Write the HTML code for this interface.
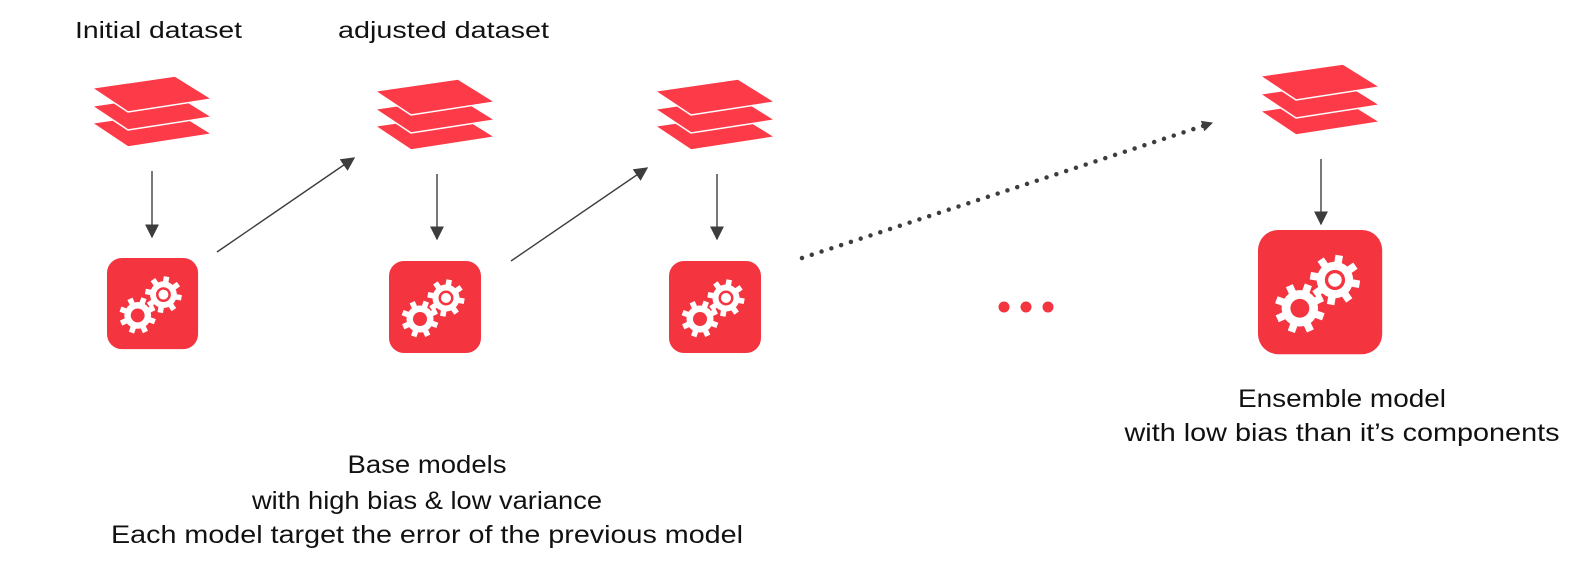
<!DOCTYPE html>
<html><head><meta charset="utf-8"><style>
html,body{margin:0;padding:0;background:#fff;}
svg{display:block;}
text{font-family:"Liberation Sans",sans-serif;fill:#111;}
</style></head><body>
<svg width="1595" height="569" viewBox="0 0 1595 569" xmlns="http://www.w3.org/2000/svg">
<defs>
  <g id="stack">
    <polygon points="0,47 83,35 120,58 36,71" fill="#fd3a48" stroke="#fff" stroke-width="1.5"/>
    <polygon points="0,30 83,18 120,41 36,54" fill="#fd3a48" stroke="#fff" stroke-width="1.5"/>
    <polygon points="0,12 83,0 120,23 36,36" fill="#fd3a48" stroke="#fff" stroke-width="1.5"/>
  </g>
  <g id="gear">
    <g fill="#fff">
      <circle r="13.5"/>
      <rect x="-2.8" y="-18.5" width="5.6" height="37"/>
      <rect x="-2.8" y="-18.5" width="5.6" height="37" transform="rotate(45)"/>
      <rect x="-2.8" y="-18.5" width="5.6" height="37" transform="rotate(90)"/>
      <rect x="-2.8" y="-18.5" width="5.6" height="37" transform="rotate(135)"/>
    </g>
  </g>
  <g id="box">
    <rect x="0" y="0" width="92" height="92" rx="15" fill="#f4343f"/>
    <use href="#gear" transform="translate(57,37) rotate(10)"/>
    <circle cx="57" cy="37" r="7.5" fill="#f4343f"/>
    <circle cx="57" cy="37" r="5" fill="#fff"/>
    <use href="#gear" transform="translate(31,58) rotate(20)"/>
    <circle cx="31" cy="58" r="7" fill="#f4343f"/>
  </g>
  <marker id="ah" viewBox="0 0 10 10" refX="9" refY="5" markerWidth="11" markerHeight="11" markerUnits="userSpaceOnUse" orient="auto">
    <path d="M0,0 L10,5 L0,10 z" fill="#3d3d3d"/>
  </marker>
  <marker id="ah2" viewBox="0 0 10 10" refX="9" refY="5" markerWidth="14" markerHeight="14" markerUnits="userSpaceOnUse" orient="auto">
    <path d="M0,0 L10,5 L0,10 z" fill="#3d3d3d"/>
  </marker>
</defs>

<text x="75" y="38" font-size="23" textLength="167" lengthAdjust="spacingAndGlyphs">Initial dataset</text>
<text x="338" y="38" font-size="23" textLength="211" lengthAdjust="spacingAndGlyphs">adjusted dataset</text>

<use href="#stack" transform="translate(92,76)"/>
<use href="#stack" transform="translate(375,79)"/>
<use href="#stack" transform="translate(655,79)"/>
<use href="#stack" transform="translate(1260,64)"/>

<use href="#box" transform="translate(107,258) scale(0.99)"/>
<use href="#box" transform="translate(389,261)"/>
<use href="#box" transform="translate(669,261)"/>
<use href="#box" transform="translate(1258,230) scale(1.35)"/>

<g stroke="#3d3d3d" stroke-width="1.4" fill="none">
  <line x1="152" y1="171" x2="152" y2="237" marker-end="url(#ah2)"/>
  <line x1="437" y1="174" x2="437" y2="239" marker-end="url(#ah2)"/>
  <line x1="717" y1="174" x2="717" y2="239" marker-end="url(#ah2)"/>
  <line x1="1321" y1="159" x2="1321" y2="224" marker-end="url(#ah2)"/>
  <line x1="217" y1="252" x2="354" y2="158" marker-end="url(#ah2)"/>
  <line x1="511" y1="261" x2="647" y2="168" marker-end="url(#ah2)"/>
  <line x1="802" y1="258" x2="1212" y2="123" stroke-width="4.5" stroke-linecap="round" stroke-dasharray="0 10.3" marker-end="url(#ah)"/>
</g>

<circle cx="1004" cy="307" r="5.5" fill="#f4343f"/>
<circle cx="1026" cy="307" r="5.5" fill="#f4343f"/>
<circle cx="1048" cy="307" r="5.5" fill="#f4343f"/>

<g font-size="25" text-anchor="middle">
  <text x="427" y="473" textLength="159" lengthAdjust="spacingAndGlyphs">Base models</text>
  <text x="427" y="509" textLength="350" lengthAdjust="spacingAndGlyphs">with high bias &amp; low variance</text>
  <text x="427" y="543" textLength="632" lengthAdjust="spacingAndGlyphs">Each model target the error of the previous model</text>
  <text x="1342" y="407" textLength="208" lengthAdjust="spacingAndGlyphs">Ensemble model</text>
  <text x="1342" y="441" textLength="435" lengthAdjust="spacingAndGlyphs">with low bias than it’s components</text>
</g>
</svg>
</body></html>
